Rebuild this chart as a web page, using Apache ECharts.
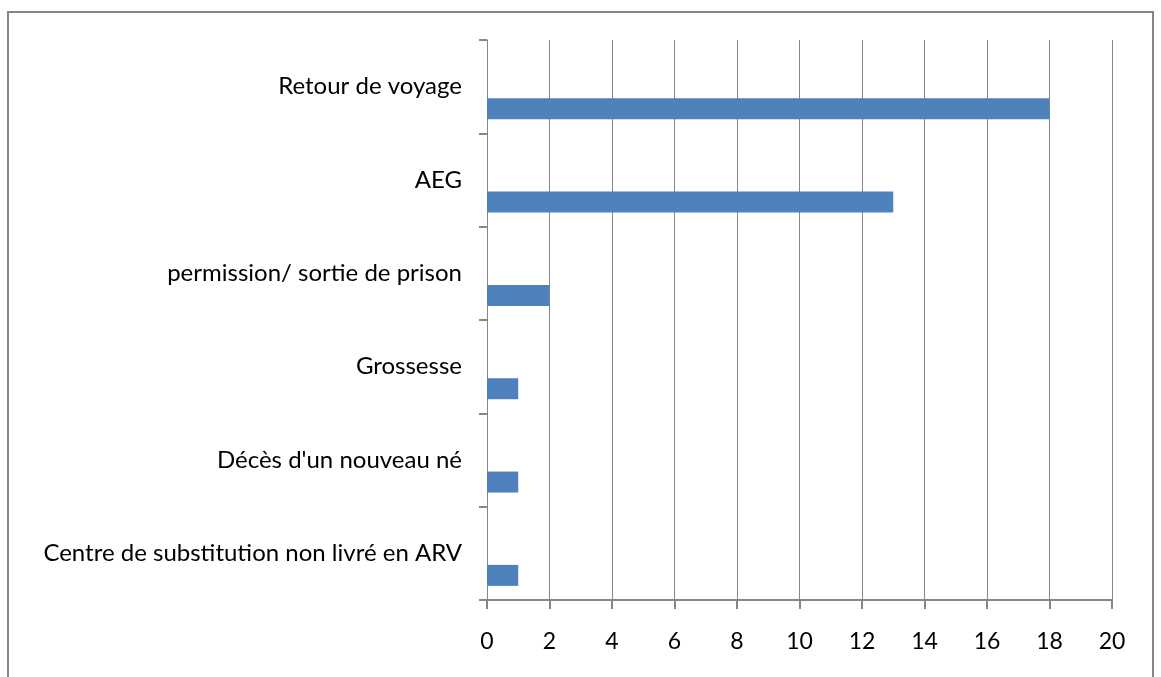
<!DOCTYPE html>
<head>
    <meta charset="utf-8">
    <title>Motifs</title>
    <style>
        html, body {
            width: 100%;
            height: 100%;
            margin: 0;
            background: #fff;
        }
        #main {
            width: 1161px;
            height: 677px;
        }
    </style>
</head>
<body>
<div id="main"></div>
<script src="https://cdn.jsdelivr.net/npm/echarts@6/dist/echarts.min.js"></script>
<script type="text/javascript">
  // categories from bottom to top
  var categories = [
    'Centre de substitution non livré en ARV',
    "Décès d'un nouveau né",
    'Grossesse',
    'permission/ sortie de prison',
    'AEG',
    'Retour de voyage'
  ];
  var values = [1, 1, 1, 2, 13, 18];
  var emptyValues = ['-', '-', '-', '-', '-', '-'];

  var myChart = echarts.init(document.getElementById('main'));
  var gray = '#868686';
  var font = 'Lato';

  var option = {
    animation: false,
    backgroundColor: '#fff',
    graphic: [{
      type: 'rect',
      shape: {x: 8, y: 12, width: 1145, height: 680},
      style: {fill: 'none', stroke: gray, lineWidth: 2},
      silent: true
    }],
    grid: {
      left: 487,
      right: 49,
      top: 40,
      bottom: 77
    },
    xAxis: {
      type: 'value',
      min: 0,
      max: 20,
      interval: 2,
      axisLine: {show: true, lineStyle: {color: gray, width: 2}},
      axisTick: {show: true, length: 9, lineStyle: {color: gray, width: 2}},
      splitLine: {show: true, lineStyle: {color: gray, width: 1}},
      axisLabel: {color: '#000', fontFamily: font, fontSize: 23, margin: 30}
    },
    yAxis: {
      type: 'category',
      data: categories,
      axisLine: {show: true, lineStyle: {color: gray, width: 1}},
      axisTick: {show: true, length: 8, lineStyle: {color: gray, width: 2}},
      axisLabel: {color: '#000', fontFamily: font, fontSize: 24, margin: 25}
    },
    series: [
      {
        type: 'bar',
        data: emptyValues,
        barWidth: 21,
        barGap: '110%'
      },
      {
        type: 'bar',
        data: values,
        barWidth: 21,
        barGap: '110%',
        itemStyle: {color: '#4F81BD'}
      }
    ]
  };
  myChart.setOption(option);
</script>
</body>
